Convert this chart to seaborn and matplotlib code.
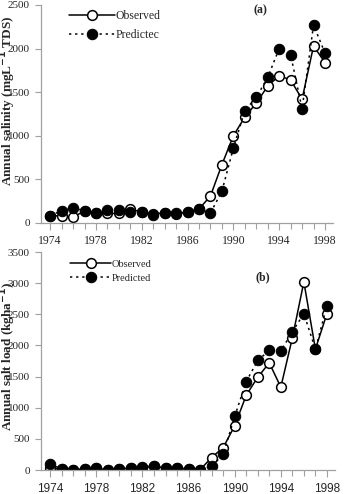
import matplotlib
matplotlib.use('Agg')
import matplotlib.pyplot as plt
import seaborn as sns
import numpy as np
from matplotlib.ticker import MultipleLocator

years = list(range(1974, 1999))

salinity_observed = [85, 80, 65, 140, 110, 110, 110, 160, 125, 100, 120, 105, 125, 160,
                     310, 670, 1000, 1215, 1375, 1570, 1690, 1640, 1420, 2030, 1840]
salinity_predicted = [85, 140, 175, 140, 110, 150, 150, 130, 125, 95, 120, 110, 125, 160,
                      115, 365, 860, 1290, 1440, 1670, 2000, 1930, 1310, 2270, 1950]

load_observed = [30, 10, 5, 15, 25, 5, 15, 35, 30, 60, 25, 25, 15, 5,
                 200, 360, 710, 1200, 1490, 1720, 1330, 2120, 3020, 1940, 2510]
load_predicted = [100, 10, 5, 20, 30, 5, 20, 40, 55, 70, 25, 30, 20, 5,
                  60, 250, 860, 1420, 1760, 1920, 1910, 2220, 2510, 1940, 2640]

year_labels = [1974, 1978, 1982, 1986, 1990, 1994, 1998]

sns.set_theme(style="ticks")
plt.rcParams['font.family'] = ['Liberation Serif', 'DejaVu Serif']

W, H = 346, 494
fig = plt.figure(figsize=(W / 100, H / 100), dpi=100)
ax_a = fig.add_axes([41 / W, 1 - 223 / H, 292 / W, 218 / H])
ax_b = fig.add_axes([41 / W, 1 - 470 / H, 294 / W, 218 / H])

grey = '#a0a0a0'


def draw_panel(ax, observed, predicted, ylim, ystep, ylabel, label_y, tag, pred_label,
               leg_size, leg_anchor, leg_spacing, tag_pos, xfont):
  sns.lineplot(x=years, y=observed, ax=ax, color='black', linewidth=1.1,
               marker='o', markersize=7, markerfacecolor='white',
               markeredgecolor='black', markeredgewidth=1.1, label='Observed')
  sns.lineplot(x=years, y=predicted, ax=ax, color='black', linewidth=1.1,
               linestyle=(0, (1.5, 2.5)), marker='o', markersize=7.5,
               markerfacecolor='black', markeredgecolor='black',
               label=pred_label)
  ax.set_xlim(1973.2, 1998.7)
  ax.set_ylim(0, ylim)
  ax.yaxis.set_major_locator(MultipleLocator(ystep))
  ax.set_xticks(year_labels)
  ax.xaxis.set_minor_locator(MultipleLocator(1))
  ax.tick_params(axis='both', which='both', color=grey, direction='out')
  ax.tick_params(axis='y', which='major', length=4, width=0.8, labelsize=8, pad=4)
  ax.tick_params(axis='x', which='major', length=5, width=0.8, labelsize=8.5, pad=4)
  ax.tick_params(axis='x', which='minor', length=4, width=0.8)
  for lab in ax.get_xticklabels():
    lab.set_family(xfont)
  for side in ['top', 'right']:
    ax.spines[side].set_visible(False)
  for side in ['left', 'bottom']:
    ax.spines[side].set_color(grey)
    ax.spines[side].set_linewidth(0.9)
  ax.set_xlabel('')
  ax.set_ylabel(ylabel, fontsize=9.5, fontweight='bold')
  ax.yaxis.label.set_verticalalignment('center')
  ax.yaxis.set_label_coords(-0.113, label_y)
  ax.text(tag_pos[0], tag_pos[1], tag, transform=ax.transAxes, ha='center',
          va='center', fontsize=8.5, fontweight='bold')
  ax.legend(loc='upper left', bbox_to_anchor=leg_anchor, frameon=False,
            fontsize=leg_size, handlelength=3.9, handletextpad=0.1,
            borderpad=0, borderaxespad=0, labelspacing=leg_spacing)


draw_panel(ax_a, salinity_observed, salinity_predicted, 2500, 500,
           r'Annual salinity (mgL$^{\mathbf{-1}}$ TDS)', 0.56, '(a)', 'Predictec',
           8.5, (0.095, 0.975), 0.55, (0.75, 0.977), 'Liberation Serif')
draw_panel(ax_b, load_observed, load_predicted, 3500, 500,
           r'Annual salt load (kgha$^{\mathbf{-1}}$)', 0.52, '(b)', 'Predicted',
           7.5, (0.1, 0.965), 0.45, (0.753, 0.885), 'Liberation Sans')

fig.savefig('out.png', dpi=100)
